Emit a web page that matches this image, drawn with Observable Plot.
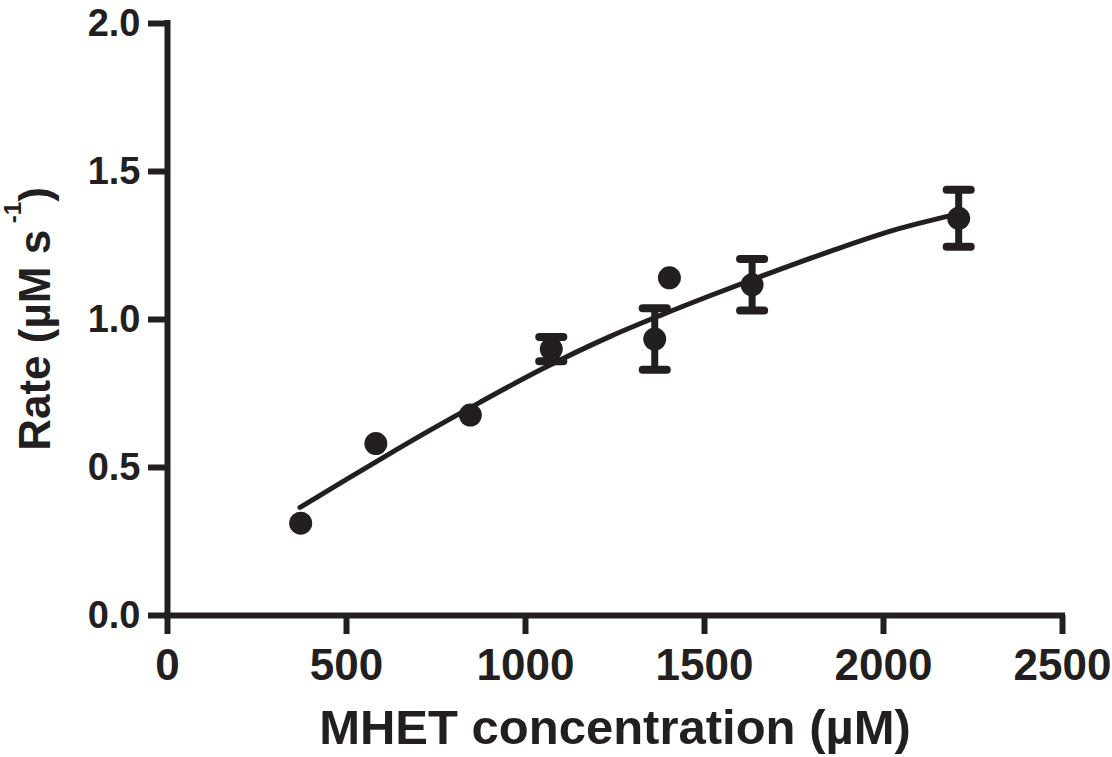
<!DOCTYPE html>
<html>
<head>
<meta charset="utf-8">
<script src="https://cdn.jsdelivr.net/npm/d3@7"></script>
<script src="https://cdn.jsdelivr.net/npm/@observablehq/plot@0.6"></script>
<style>
html, body { margin: 0; padding: 0; background: #fff; }
</style>
</head>
<body>
<div id="chart"></div>
<script>
// Measured data (MHET concentration in µM, rate in µM s^-1, error = half bar length)
const conc = [372, 582, 846, 1072, 1361, 1402, 1633, 2210];
const rate = [0.312, 0.581, 0.677, 0.900, 0.934, 1.141, 1.117, 1.342];
const err  = [0, 0, 0, 0.041, 0.104, 0, 0.087, 0.096];

// Fitted curve
const fitX = [370, 500, 600, 735, 874, 1042, 1237, 1377, 1517, 1656, 1843, 2029, 2190];
const fitY = [0.365, 0.460, 0.532, 0.627, 0.721, 0.830, 0.943, 1.014, 1.081, 1.145, 1.227, 1.302, 1.352];

const xTicks = [0, 500, 1000, 1500, 2000, 2500];
const yTicks = [0, 0.5, 1.0, 1.5, 2.0];
const xTitle = "MHET concentration (µM)";
const yTitle = ["Rate (µM s", "-1", ")"];

const ink = "#231f20";
const font = "'Liberation Sans', Arial, Helvetica, sans-serif";

const points = conc.map((x, i) => ({x, y: rate[i], e: err[i]}));
const bars = points.filter(d => d.e > 0);
const fit = fitX.map((x, i) => ({x, y: fitY[i]}));
const cap = {draw(ctx, size) { const w = Math.sqrt(size); ctx.moveTo(-w, 0); ctx.lineTo(w, 0); }};

const plot = Plot.plot({
  width: 1112,
  height: 757,
  marginLeft: 167,
  marginRight: 50,
  marginTop: 23,
  marginBottom: 142,
  style: {fontFamily: font, color: ink, background: "#fff", overflow: "visible"},
  x: {domain: [0, 2500]},
  y: {domain: [0, 2]},
  marks: [
    Plot.axisX({ticks: xTicks, tickSize: 19, tickPadding: 14, strokeWidth: 6, fontSize: 44,
      fontWeight: "bold", label: null, tickFormat: d => String(d), fill: ink, stroke: ink}),
    Plot.axisY({ticks: yTicks, tickSize: 19, tickPadding: 8, strokeWidth: 6, fontSize: 38,
      fontWeight: "bold", label: null, tickFormat: d3.format(".1f"), fill: ink, stroke: ink}),
    Plot.ruleX([0], {stroke: ink, strokeWidth: 6, strokeLinecap: "square"}),
    Plot.ruleY([0], {stroke: ink, strokeWidth: 6, strokeLinecap: "square"}),
    Plot.line(fit, {x: "x", y: "y", curve: "monotone-x", stroke: ink, strokeWidth: 5}),
    Plot.ruleX(bars, {x: "x", y1: d => d.y - d.e, y2: d => d.y + d.e, stroke: ink, strokeWidth: 7}),
    Plot.dot(bars, {x: "x", y: d => d.y + d.e, symbol: cap, r: 6.8, fill: "none", stroke: ink, strokeWidth: 8, strokeLinecap: "round"}),
    Plot.dot(bars, {x: "x", y: d => d.y - d.e, symbol: cap, r: 6.8, fill: "none", stroke: ink, strokeWidth: 8, strokeLinecap: "round"}),
    Plot.dot(points, {x: "x", y: "y", r: 11.5, fill: ink, stroke: "none"}),
    Plot.text([xTitle], {frameAnchor: "bottom", dy: 128, lineAnchor: "bottom", fontSize: 49,
      fontWeight: "bold", fill: ink, text: d => d})
  ]
});

const svg = d3.select(plot);
const t = svg.append("text")
  .attr("transform", "translate(50,319) rotate(-90)")
  .attr("text-anchor", "middle")
  .attr("font-family", font)
  .attr("font-size", 44)
  .attr("font-weight", "bold")
  .attr("fill", ink);
t.append("tspan").text(yTitle[0]);
t.append("tspan").attr("font-size", 24).attr("dy", -29).text(" " + yTitle[1]);
t.append("tspan").attr("dy", 29).text(yTitle[2]);

document.getElementById("chart").appendChild(plot);
</script>
</body>
</html>
